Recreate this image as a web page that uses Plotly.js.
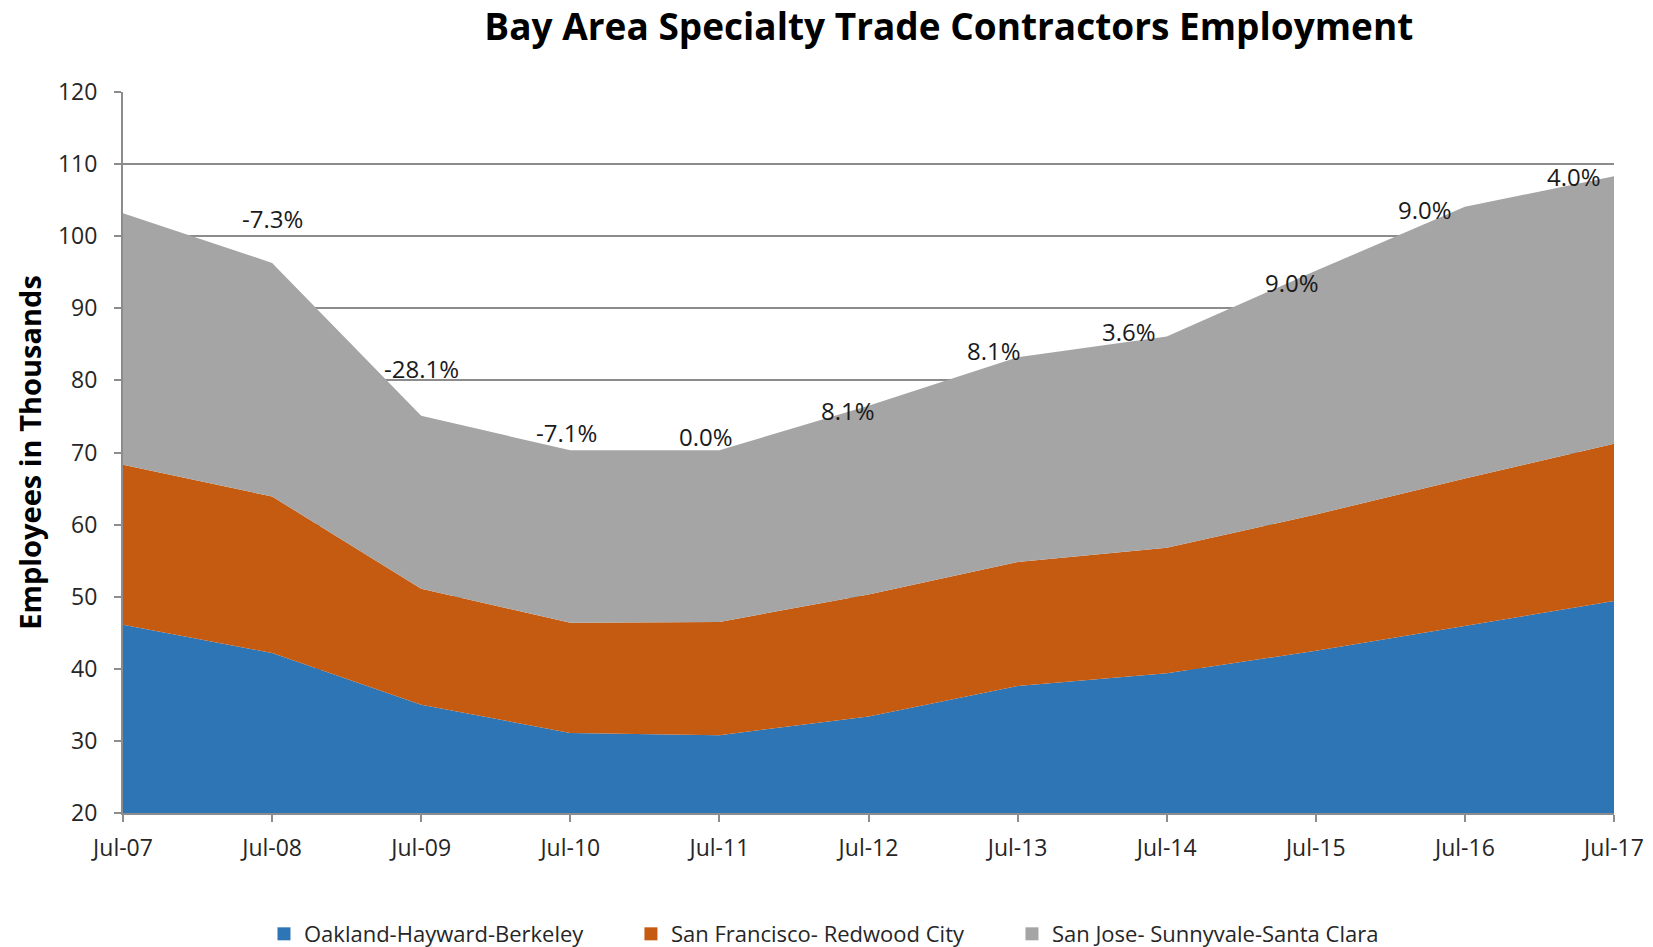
<!DOCTYPE html>
<html>
<head>
<meta charset="utf-8">
<script src="https://cdn.plot.ly/plotly-3.0.1.min.js"></script>
<style>html,body{margin:0;padding:0;background:#fff;}#chart{width:1653px;height:947px;}</style>
</head>
<body>
<div id="chart"></div>
<script>
// ---- data ----
const categories = ["Jul-07","Jul-08","Jul-09","Jul-10","Jul-11","Jul-12","Jul-13","Jul-14","Jul-15","Jul-16","Jul-17"];
const oakland = [46.1, 42.2, 35.0, 31.1, 30.8, 33.4, 37.6, 39.4, 42.5, 45.9, 49.4];
const sanFrancisco = [22.2, 21.7, 16.1, 15.3, 15.7, 16.9, 17.2, 17.4, 18.9, 20.5, 21.8];
const sanJose = [34.9, 32.4, 24.0, 23.9, 23.8, 26.2, 28.4, 29.3, 33.8, 37.7, 37.1];
const changeLabels = ["", "-7.3%", "-28.1%", "-7.1%", "0.0%", "8.1%", "8.1%", "3.6%", "9.0%", "9.0%", "4.0%"];
const seriesNames = ["Oakland-Hayward-Berkeley", "San Francisco- Redwood City", "San Jose- Sunnyvale-Santa Clara"];
const yTicks = [20, 30, 40, 50, 60, 70, 80, 90, 100, 110, 120];

// ---- styles ----
const colors = ["#2E75B6", "#C55A11", "#A5A5A5"];
const labelShiftX = [0, 0, 0, -4, -13, -21, -24, -38, -24, -40, -40];
const labelShiftY = [0, 44, 47, 18, 14, -5, 7, 5, -12, -3, 0];
const legendX = [0.1597, 0.3817, 0.6122];
const legendIds = ["legend", "legend2", "legend3"];
const FONT = "'Open Sans', 'Noto Sans', sans-serif";

const xIdx = categories.map((c, i) => i);
const seriesValues = [oakland, sanFrancisco, sanJose];

const traces = [];
seriesValues.forEach((vals, k) => {
  traces.push({
    type: "scatter", mode: "lines", x: xIdx, y: vals,
    stackgroup: "one", name: seriesNames[k],
    line: {width: 0, color: colors[k]}, fillcolor: colors[k],
    showlegend: false, hoverinfo: "skip"
  });
});
seriesValues.forEach((vals, k) => {
  traces.push({
    type: "scatter", mode: "markers", x: [null], y: [null],
    name: seriesNames[k], legend: legendIds[k],
    marker: {symbol: "square", size: 13, color: colors[k]},
    showlegend: true
  });
});

const totals = xIdx.map(i => oakland[i] + sanFrancisco[i] + sanJose[i]);
const annotations = [];
xIdx.forEach(i => {
  if (!changeLabels[i]) return;
  annotations.push({
    x: i, y: totals[i], xref: "x", yref: "y",
    text: changeLabels[i], showarrow: false,
    xanchor: "center", yanchor: "middle",
    xshift: labelShiftX[i], yshift: labelShiftY[i],
    font: {family: FONT, size: 24, color: "#1a1a1a"}
  });
});

const layout = {
  width: 1653, height: 947,
  paper_bgcolor: "#ffffff", plot_bgcolor: "#ffffff",
  margin: {l: 123, r: 39, t: 92, b: 134},
  title: {
    text: "<b>Bay Area Specialty Trade Contractors Employment</b>",
    font: {family: FONT, size: 37, color: "#000000"},
    x: 0.574, xref: "container", xanchor: "center",
    y: 0.9715, yref: "container", yanchor: "middle"
  },
  xaxis: {
    range: [0, 10], tickvals: xIdx, ticktext: categories,
    showgrid: false, zeroline: false,
    showline: true, linecolor: "#8c8c8c", linewidth: 2,
    ticks: "outside", ticklen: 7, tickwidth: 2, tickcolor: "#8c8c8c",
    tickfont: {family: FONT, size: 23, color: "#262626"},
    ticklabelstandoff: 6, fixedrange: true
  },
  yaxis: {
    range: [20, 120], tickvals: yTicks, ticktext: yTicks.map(String),
    showgrid: true, gridcolor: "#8c8c8c", gridwidth: 2,
    zeroline: false, showline: true, linecolor: "#8c8c8c", linewidth: 2,
    ticks: "outside", ticklen: 7, tickwidth: 2, tickcolor: "#8c8c8c",
    tickfont: {family: FONT, size: 23, color: "#262626"},
    ticklabelstandoff: 12,
    title: {text: "<b>Employees in Thousands</b>", font: {family: FONT, size: 29, color: "#000000"}, standoff: 8},
    fixedrange: true
  },
  annotations: annotations,
  showlegend: true
};

legendIds.forEach((id, k) => {
  layout[id] = {
    orientation: "h", traceorder: "normal",
    x: legendX[k], xref: "container", xanchor: "left",
    y: 0.0137, yref: "container", yanchor: "middle",
    font: {family: FONT, size: 22, color: "#262626"},
    bgcolor: "rgba(0,0,0,0)",
    itemclick: false, itemdoubleclick: false
  };
});

Plotly.newPlot("chart", traces, layout, {displayModeBar: false, staticPlot: true});
</script>
</body>
</html>
